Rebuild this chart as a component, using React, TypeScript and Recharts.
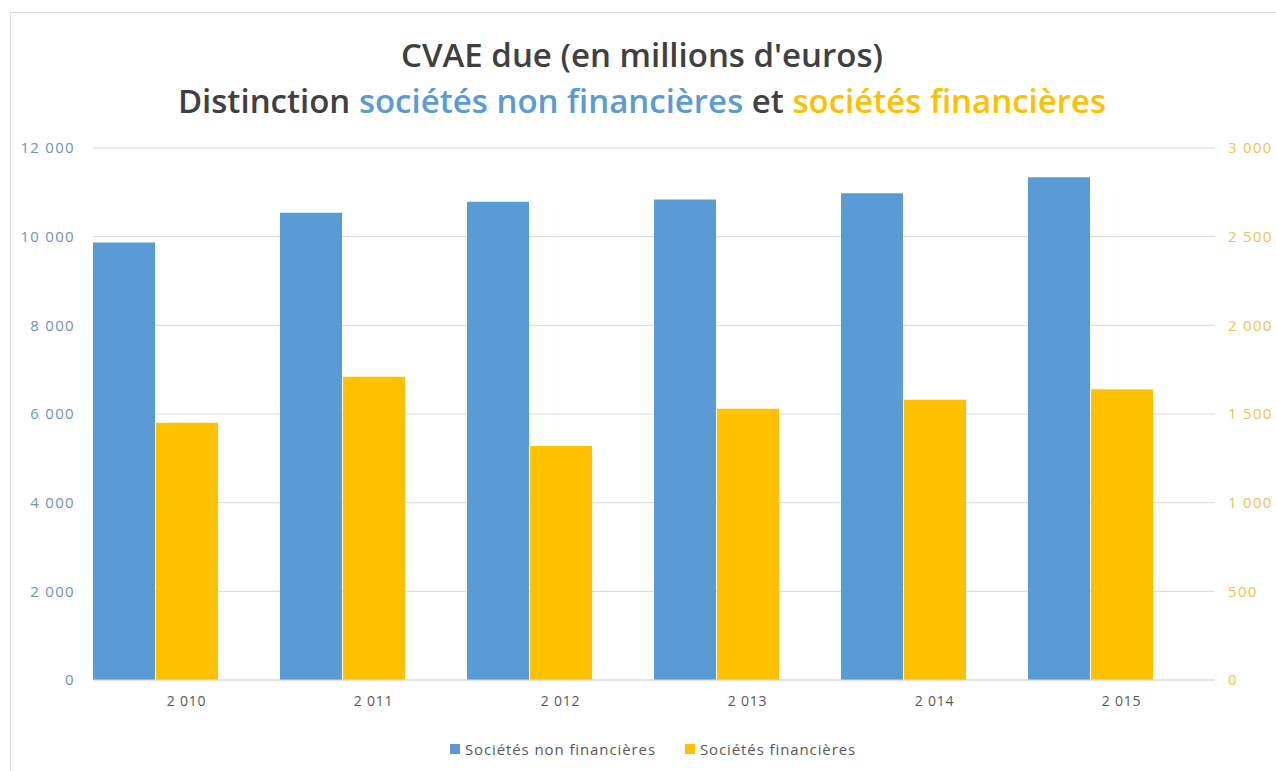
import React from "react";
import {
  BarChart,
  Bar,
  XAxis,
  YAxis,
  CartesianGrid,
  Legend,
} from "recharts";

const YEARS = [2010, 2011, 2012, 2013, 2014, 2015];
const NON_FINANCIAL = [9870, 10540, 10790, 10840, 10980, 11340];
const FINANCIAL = [1450, 1710, 1320, 1530, 1580, 1640];
const LEFT_TICKS = [0, 2000, 4000, 6000, 8000, 10000, 12000];
const RIGHT_TICKS = [0, 500, 1000, 1500, 2000, 2500, 3000];

const BLUE = "#5B9BD5";
const YELLOW = "#FFC000";
const FONT = "'Open Sans', sans-serif";

const data = YEARS.map((year, i) => ({
  year,
  nonFin: NON_FINANCIAL[i],
  fin: FINANCIAL[i],
}));

// Excel style thousands: 12000 -> "12 000", 2010 -> "2 010"
const fmt = (v: number) => String(v).replace(/\B(?=(\d{3})+(?!\d))/g, " ");

function LegendContent() {
  const items = [
    { label: "Sociétés non financières", color: BLUE },
    { label: "Sociétés financières", color: YELLOW },
  ];
  return (
    <div
      style={{
        display: "flex",
        justifyContent: "center",
        gap: 29,
        paddingLeft: 30,
        fontFamily: FONT,
        fontSize: 15,
        letterSpacing: 0.9,
        color: "#595959",
      }}
    >
      {items.map((it) => (
        <div key={it.label} style={{ display: "flex", alignItems: "center", gap: 5 }}>
          <div style={{ width: 10, height: 10, background: it.color }} />
          <span>{it.label}</span>
        </div>
      ))}
    </div>
  );
}

export default function App() {
  return (
    <div
      style={{
        position: "absolute",
        left: 0,
        top: 0,
        width: 1276,
        height: 771,
        background: "#fff",
        overflow: "hidden",
      }}
    >
      <div
        style={{
          position: "absolute",
          left: 10,
          top: 12,
          width: 1300,
          height: 800,
          border: "1px solid #d9d9d9",
        }}
      />
      <div
        style={{
          position: "absolute",
          left: 4,
          top: 32,
          width: 1276,
          textAlign: "center",
          fontFamily: FONT,
          fontWeight: 600,
          fontSize: 33,
          lineHeight: "46px",
          color: "#404040",
          zIndex: 2,
        }}
      >
        <div>CVAE due (en millions d'euros)</div>
        <div>
          Distinction <span style={{ color: BLUE }}>sociétés non financières</span> et{" "}
          <span style={{ color: YELLOW }}>sociétés financières</span>
        </div>
      </div>
      <BarChart
        width={1276}
        height={771}
        data={data}
        margin={{ top: 148, right: 0, bottom: 0, left: 0 }}
        barCategoryGap={0}
        barGap={1}
      >
        <CartesianGrid yAxisId="left" vertical={false} stroke="#d9d9d9" />
        <XAxis
          dataKey="year"
          height={91}
          tickFormatter={fmt}
          tickLine={false}
          axisLine={{ stroke: "#d9d9d9" }}
          tickMargin={10}
          tick={{ fill: "#595959", fontSize: 14, fontFamily: FONT, letterSpacing: 0.8 }}
        />
        <YAxis
          yAxisId="left"
          orientation="left"
          width={93}
          domain={[0, 12000]}
          ticks={LEFT_TICKS}
          tickFormatter={fmt}
          axisLine={false}
          tickLine={false}
          tickMargin={12}
          tick={{ fill: "#6E92BE", fontSize: 15, fontFamily: FONT, letterSpacing: 1.3 }}
        />
        <YAxis
          yAxisId="right"
          orientation="right"
          width={61}
          domain={[0, 3000]}
          ticks={RIGHT_TICKS}
          tickFormatter={fmt}
          axisLine={false}
          tickLine={false}
          tickMargin={7}
          tick={{ fill: "#F2C14E", fontSize: 15, fontFamily: FONT, letterSpacing: 1.3 }}
        />
        <Bar yAxisId="left" dataKey="nonFin" name="Sociétés non financières" fill={BLUE} isAnimationActive={false} />
        <Bar yAxisId="right" dataKey="fin" name="Sociétés financières" fill={YELLOW} isAnimationActive={false} />
        {/* empty slot so both bars sit on the left of each category, like the Excel source */}
        <Bar yAxisId="left" dataKey="spacer" legendType="none" fill="none" isAnimationActive={false} />
        <Legend
          verticalAlign="middle"
          align="center"
          content={<LegendContent />}
          wrapperStyle={{ top: 739, left: 0, width: 1276 }}
        />
      </BarChart>
    </div>
  );
}
